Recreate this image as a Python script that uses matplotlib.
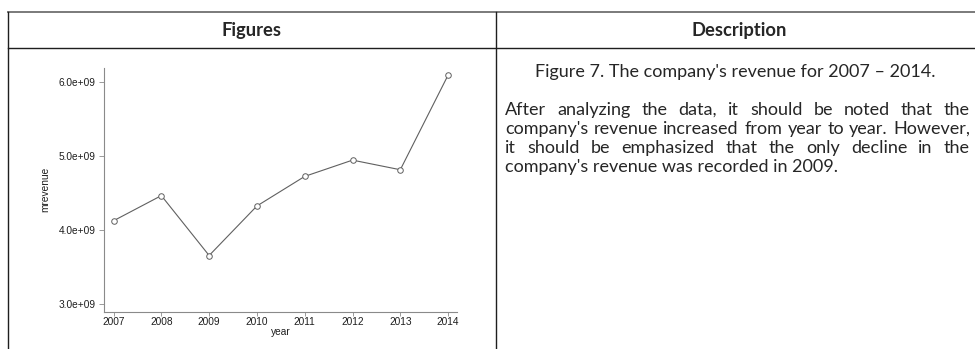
import matplotlib
matplotlib.use('Agg')
import matplotlib.pyplot as plt
from matplotlib.lines import Line2D

# ---------------- data ----------------
years = [2007, 2008, 2009, 2010, 2011, 2012, 2013, 2014]
mrevenue = [4.13e9, 4.47e9, 3.66e9, 4.33e9, 4.73e9, 4.95e9, 4.82e9, 6.10e9]
y_ticks = [3.0e9, 4.0e9, 5.0e9, 6.0e9]
y_tick_labels = ['3.0e+09', '4.0e+09', '5.0e+09', '6.0e+09']
x_label = 'year'
y_label = 'mrevenue'
header_labels = ['Figures', 'Description']
caption = "Figure 7. The company's revenue for 2007 \u2013 2014."
paragraph_lines = [
    "After analyzing the data, it should be noted that the",
    "company's revenue increased from year to year. However,",
    "it should be emphasized that the only decline in the",
    "company's revenue was recorded in 2009.",
]

# ---------------- figure ----------------
W, H = 975, 349
fig = plt.figure(figsize=(W / 100, H / 100), dpi=100)
fig.patch.set_facecolor('white')


def fx(px):
    return px / W


def fy(py):
    return 1 - py / H


# ---------------- table lines ----------------
dark = '#1e1e1e'
fig.add_artist(Line2D([fx(8), fx(975)], [fy(11.5), fy(11.5)], color='#7a7a7a', lw=1.4))
fig.add_artist(Line2D([fx(8), fx(975)], [fy(48), fy(48)], color=dark, lw=1.0))
fig.add_artist(Line2D([fx(8), fx(8)], [fy(11.5), fy(349)], color=dark, lw=1.0))
fig.add_artist(Line2D([fx(495.5), fx(495.5)], [fy(11.5), fy(349)], color=dark, lw=1.0))

# ---------------- chart ----------------
chart_gray = '#606060'
axis_gray = '#8a8a8a'
ax_l, ax_r, ax_t, ax_b = 104, 456.7, 67.7, 311.7
ax = fig.add_axes([fx(ax_l), fy(ax_b), fx(ax_r) - fx(ax_l), fy(ax_t) - fy(ax_b)])
ax.plot(years, mrevenue, color=chart_gray, lw=0.8, marker='o', ms=4.0,
        mfc='white', mec=chart_gray, mew=0.7, zorder=3)
ax.set_xlim(2006.8, 2014.18)
ax.set_ylim(2.9e9, 6.2e9)
ax.set_xticks(years)
ax.set_xticklabels([str(y) for y in years])
ax.set_yticks(y_ticks)
ax.set_yticklabels(y_tick_labels)
for s in ['top', 'right']:
    ax.spines[s].set_visible(False)
for s in ['left', 'bottom']:
    ax.spines[s].set_color(axis_gray)
    ax.spines[s].set_linewidth(0.8)
fs_tick = 7.3
ax.tick_params(axis='y', length=3.8, width=0.6, color=axis_gray, pad=2.4,
               labelsize=fs_tick, labelcolor='#1e1e1e')
ax.tick_params(axis='x', length=2.8, width=0.6, color=axis_gray, pad=1.0,
               labelsize=fs_tick, labelcolor='#1e1e1e')
for lab in ax.get_xticklabels() + ax.get_yticklabels():
    lab.set_family('Liberation Sans')
ax.set_xlabel(x_label, fontfamily='Liberation Sans', fontsize=fs_tick, color='#1e1e1e', va='center')
ax.set_ylabel(y_label, fontfamily='Liberation Sans', fontsize=fs_tick, color='#1e1e1e', va='center')
ax.xaxis.set_label_coords(0.5, (ax_b - 331.7) / (ax_b - ax_t))
ax.yaxis.set_label_coords((45 - ax_l) / (ax_r - ax_l), 0.5)
ax.patch.set_alpha(0)

# ---------------- text ----------------
renderer = fig.canvas.get_renderer()
txt_font = 'Lato'
txt_color = '#262626'


def text_width(s, **kw):
    t = fig.text(0, 0, s, **kw)
    w = t.get_window_extent(renderer).width
    t.remove()
    return w


x0, x1 = 505, 970
base = 10.0
# largest size at which the longest justified line still fits the column with normal spaces
txt_size = base * (x1 - x0 - 4) / text_width(paragraph_lines[1], family=txt_font, size=base)
hdr_size = base * 95.0 / text_width(header_labels[1], family=txt_font, size=base, weight='bold')

fig.text(fx(251.7), fy(36), header_labels[0], family=txt_font, size=hdr_size,
         weight='bold', color=txt_color, ha='center', va='baseline')
fig.text(fx(739), fy(36), header_labels[1], family=txt_font, size=hdr_size,
         weight='bold', color=txt_color, ha='center', va='baseline')

fig.text(fx(735), fy(77), caption, family=txt_font, size=txt_size,
         color=txt_color, ha='center', va='baseline')

baselines = [115, 134, 153, 172]
for i, line in enumerate(paragraph_lines):
    yb = baselines[i]
    if i == len(paragraph_lines) - 1:
        fig.text(fx(x0), fy(yb), line, family=txt_font, size=txt_size,
                 color=txt_color, ha='left', va='baseline')
        continue
    words = line.split(' ')
    widths = [text_width(w, family=txt_font, size=txt_size) for w in words]
    gap = (x1 - x0 - sum(widths)) / (len(words) - 1)
    x = x0
    for w, wd in zip(words, widths):
        fig.text(fx(x), fy(yb), w, family=txt_font, size=txt_size,
                 color=txt_color, ha='left', va='baseline')
        x += wd + gap

fig.savefig('out.png', dpi=100, facecolor='white')
